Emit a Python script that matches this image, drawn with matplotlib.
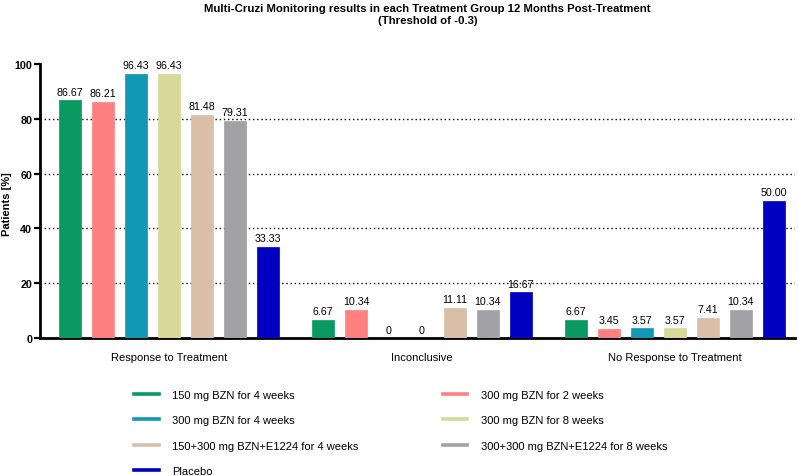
import matplotlib.pyplot as plt
from matplotlib.lines import Line2D

plt.rcParams['font.family'] = ['Liberation Sans', 'DejaVu Sans']

categories = ["Response to Treatment", "Inconclusive", "No Response to Treatment"]
groups = ["150 mg BZN for 4 weeks", "300 mg BZN for 2 weeks", "300 mg BZN for 4 weeks",
          "300 mg BZN for 8 weeks", "150+300 mg BZN+E1224 for 4 weeks",
          "300+300 mg BZN+E1224 for 8 weeks", "Placebo"]
colors = ["#0a9960", "#ff8080", "#1098b5", "#d8d899", "#dabea8", "#a1a1a6", "#0000c0"]

response = [86.67, 86.21, 96.43, 96.43, 81.48, 79.31, 33.33]
inconclusive = [6.67, 10.34, 0, 0, 11.11, 10.34, 16.67]
no_response = [6.67, 3.45, 3.57, 3.57, 7.41, 10.34, 50.00]
values = [response, inconclusive, no_response]

fig = plt.figure(figsize=(7.98, 4.77), dpi=100)
ax = fig.add_axes([0.050, 0.289, 0.946, 0.575])

w = 0.67
gstep = 7.67
for g, vals in enumerate(values):
    for i, v in enumerate(vals):
        x = g * gstep + i + w / 2
        ax.bar(x, v, width=w, color=colors[i], edgecolor=colors[i], linewidth=0.5, zorder=3)
        lab = "0" if v == 0 else f"{v:.2f}"
        ax.text(x, v + 1.3, lab, ha="center", va="bottom", fontsize=7.7, zorder=4)

ax.set_xlim(-0.58, 2 * gstep + 6 + w + 0.3)
ax.set_ylim(0, 100)
ax.set_yticks([0, 20, 40, 60, 80, 100])
ax.set_xticks([g * gstep + 3 + w / 2 for g in range(3)])
ax.set_xticklabels(categories, fontsize=8)
ax.tick_params(axis="x", length=0, pad=10)
ax.tick_params(axis="y", length=4, width=1.6, direction="out", labelsize=7.7, pad=1.5)
for t in ax.get_yticklabels():
    t.set_fontweight("bold")

for y in [20, 40, 60, 80]:
    ax.axhline(y, color="black", linestyle=(0, (1, 2)), linewidth=1, zorder=1)

ax.spines["top"].set_visible(False)
ax.spines["right"].set_visible(False)
ax.spines["left"].set_linewidth(2)
ax.spines["bottom"].set_linewidth(2)

fig.text(7 / 798, 1 - 204 / 477, "Patients [%]", rotation=90, ha="center", va="center",
         fontsize=8, fontweight="bold")

fig.text(0.536, 0.992, "Multi-Cruzi Monitoring results in each Treatment Group 12 Months Post-Treatment\n(Threshold of -0.3)",
         ha="center", va="top", fontsize=8.2, fontweight="bold", linespacing=1.25)

handles = [Line2D([0], [0], color=c, lw=2.6) for c in colors]
order = [0, 2, 4, 6, 1, 3, 5]
fig.legend([handles[i] for i in order], [groups[i] for i in order], ncol=2,
           loc="upper left", bbox_to_anchor=(0.168, 0.181), frameon=False, fontsize=8,
           handlelength=2.2, handletextpad=1.25, columnspacing=7.55, labelspacing=1.4,
           borderaxespad=0, borderpad=0)

fig.savefig("out.png", dpi=100)
